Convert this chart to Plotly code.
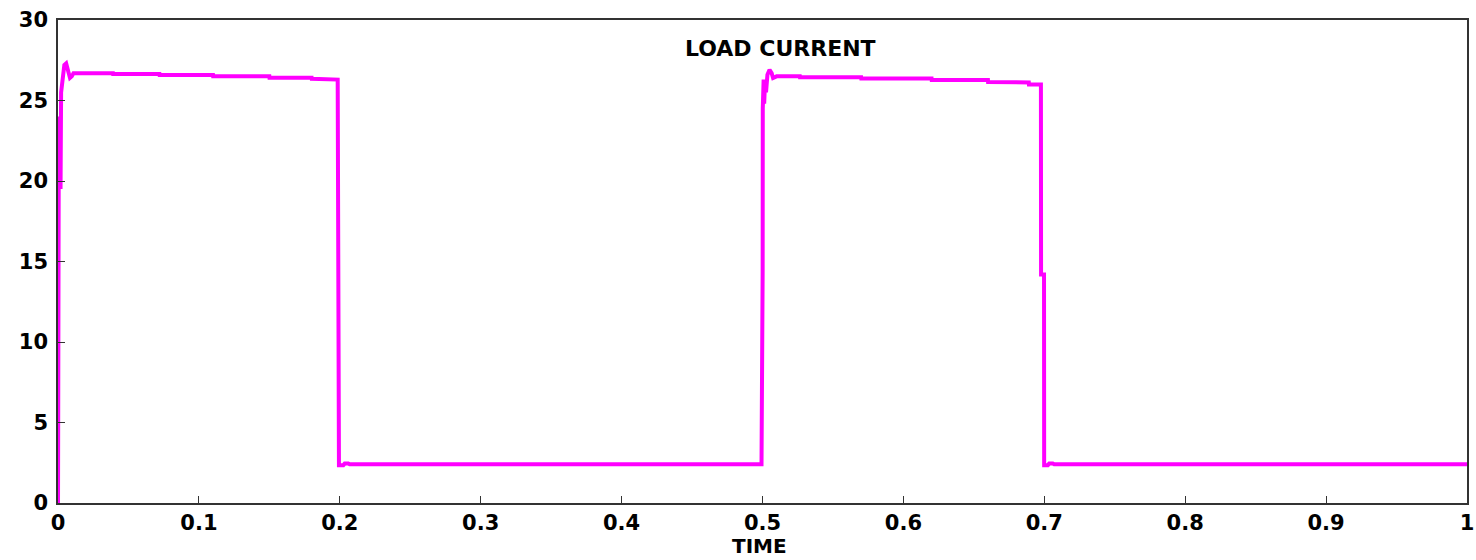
import plotly.graph_objects as go

# Load current waveform (time in s, current in A)
time = [0.0, 0.0003, 0.0006, 0.0012, 0.0018, 0.0022, 0.003, 0.0045, 0.0058, 0.0072, 0.0085, 0.0098, 0.011,
        0.039, 0.0391, 0.072, 0.0721, 0.11, 0.1101, 0.15, 0.1501, 0.18, 0.1801,
        0.1985, 0.1986, 0.1993, 0.1994, 0.2025, 0.2035, 0.206, 0.207,
        0.4993, 0.4994, 0.5001, 0.5002, 0.5008, 0.5012, 0.5018, 0.5025, 0.5035, 0.505, 0.5065, 0.5075, 0.509, 0.51,
        0.5265, 0.5266, 0.57, 0.5701, 0.62, 0.6201, 0.66, 0.6601, 0.689, 0.6891,
        0.6976, 0.6977, 0.6998, 0.6999, 0.7025, 0.7035, 0.706, 0.707, 1.0]
current = [0.0, 16.0, 24.0, 23.5, 19.5, 25.5, 26.0, 27.2, 27.3, 26.8, 26.4, 26.5, 26.7,
           26.7, 26.64, 26.64, 26.58, 26.58, 26.5, 26.5, 26.42, 26.42, 26.35,
           26.3, 14.3, 14.3, 2.35, 2.35, 2.45, 2.45, 2.4,
           2.4, 14.3, 14.3, 24.5, 26.3, 24.8, 26.2, 25.5, 26.6, 26.9, 26.7, 26.4, 26.45, 26.5,
           26.5, 26.44, 26.44, 26.37, 26.37, 26.28, 26.28, 26.15, 26.12, 26.0,
           26.0, 14.2, 14.2, 2.35, 2.35, 2.45, 2.45, 2.4, 2.4]

x_ticks = [0, 0.1, 0.2, 0.3, 0.4, 0.5, 0.6, 0.7, 0.8, 0.9, 1]
x_tick_labels = ["0", "0.1", "0.2", "0.3", "0.4", "0.5", "0.6", "0.7", "0.8", "0.9", "1"]
y_ticks = [0, 5, 10, 15, 20, 25, 30]
y_tick_labels = ["0", "5", "10", "15", "20", "25", "30"]

chart_title = "LOAD CURRENT"
x_title = "TIME"

fig = go.Figure()
fig.add_trace(go.Scatter(x=time, y=current, mode="lines",
                         line=dict(color="#FF00FF", width=4), showlegend=False,
                         hoverinfo="skip"))

tick_font = dict(family="DejaVu Sans", size=21, color="black", weight="bold")
axis_common = dict(showline=True, mirror=True, linecolor="#333333", linewidth=1.5,
                   ticks="inside", ticklen=7, tickcolor="#333333", tickwidth=1.2,
                   showgrid=False, zeroline=False, tickfont=tick_font, automargin=False)

fig.update_layout(
    width=1476, height=560,
    margin=dict(l=58, r=9, t=20, b=57),
    paper_bgcolor="white", plot_bgcolor="white",
    xaxis=dict(range=[0, 1], tickvals=x_ticks, ticktext=x_tick_labels, **axis_common),
    yaxis=dict(range=[0, 30], tickvals=y_ticks, ticktext=y_tick_labels, ticklabelstandoff=4,
               **axis_common),
)

fig.add_annotation(x=0.513, y=28.2, xref="x", yref="y", text=chart_title, showarrow=False,
                   font=dict(family="DejaVu Sans", size=22, color="black", weight="bold"))
fig.add_annotation(x=0.498, y=-0.09, xref="paper", yref="paper", text=x_title, showarrow=False,
                   yanchor="middle",
                   font=dict(family="DejaVu Sans", size=20, color="black", weight="bold"))

fig.write_html("out.html")
